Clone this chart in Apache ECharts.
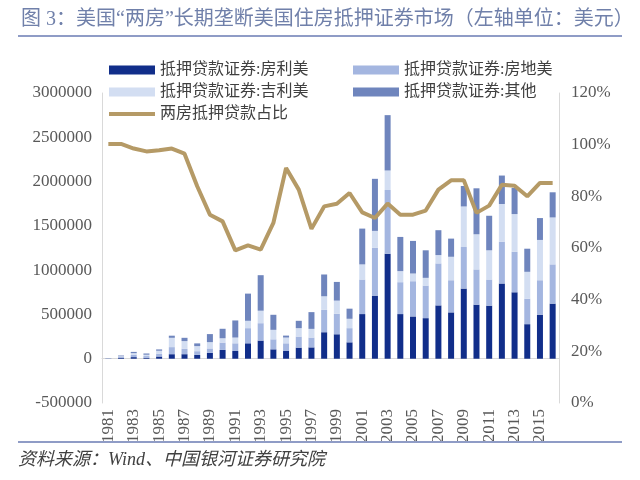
<!DOCTYPE html>
<html><head><meta charset="utf-8">
<script src="https://cdn.jsdelivr.net/npm/echarts@6/dist/echarts.min.js"></script>
<style>html,body{margin:0;padding:0;background:#fff}#c{width:640px;height:480px}</style>
</head><body><div id="c"></div>
<script>
var years = ['1981','1982','1983','1984','1985','1986','1987','1988','1989','1990','1991','1992','1993','1994','1995','1996','1997','1998','1999','2000','2001','2002','2003','2004','2005','2006','2007','2008','2009','2010','2011','2012','2013','2014','2015','2016'];
var fnma  = [2000,10000,18000,10000,25000,51000,51000,43000,66000,99000,87000,174000,205000,106000,87000,125000,128000,299000,276000,185000,504000,712000,1185000,504000,477000,458000,602000,523000,792000,610000,599000,849000,750000,390000,497000,622000];
var fhlmc = [2000,10000,25000,20000,30000,80000,60000,42000,50000,83000,87000,171000,196000,113000,87000,125000,111000,254000,232000,160000,390000,541000,720000,360000,398000,368000,474000,363000,469000,398000,295000,473000,458000,288000,389000,443000];
var gnma  = [2000,8000,20000,15000,35000,105000,88000,57000,71000,49000,65000,83000,141000,107000,65000,95000,98000,152000,148000,106000,171000,190000,220000,125000,87000,87000,94000,265000,458000,397000,330000,425000,425000,303000,455000,530000];
var other = [2000,8000,14000,14000,15000,24000,37000,31000,91000,107000,193000,307000,401000,170000,22000,83000,189000,246000,211000,114000,404000,588000,625000,386000,368000,311000,281000,205000,231000,519000,390000,321000,295000,261000,247000,284000];
var share = [100.3,100.3,98.5,97.4,97.8,98.5,96.5,83.9,72.9,70.3,59.1,61.0,59.4,69.7,91.0,82.6,67.4,76.1,77.1,81.3,73.8,71.6,77.2,72.9,72.9,74.5,82.6,86.2,86.2,73.6,76.4,84.5,84.1,80.0,85.2,85.2];
var names = ['抵押贷款证券:房利美','抵押贷款证券:房地美','抵押贷款证券:吉利美','抵押贷款证券:其他','两房抵押贷款占比'];
var colors = ['#112e8a','#a4b6e0','#d3def2','#6f85bd','#b59a66'];

var serif = 'Liberation Serif, "Noto Sans CJK SC", serif';
var legText = {fontFamily: serif, fontSize: 16, color: '#404040'};
function leg(name, left, top, isLine){
  return {data:[name], left:left, top:top, icon:'rect', itemWidth:46, itemHeight:isLine?4:9, itemGap:6, textStyle:legText, selectedMode:false};
}
var chart = echarts.init(document.getElementById('c'), null, {renderer:'canvas'});
function bar(i, data){
  return {name:names[i], type:'bar', stack:'a', data:data, barWidth:6, itemStyle:{color:colors[i]}, yAxisIndex:0};
}
chart.setOption({
  animation:false,
  color: colors,
  title:{text:'图 3：美国“两房”长期垄断美国住房抵押证券市场（左轴单位：美元）', left:16, top:5,
    textStyle:{fontFamily:serif, fontSize:20, fontWeight:'normal', color:'#7080aa'}},
  legend:[leg(names[0],104,57,false), leg(names[1],348,57,false), leg(names[2],104,79,false), leg(names[3],348,79,false), leg(names[4],104,101,true)],
  grid:{left:102, right:81, top:93, bottom:77},
  xAxis:{type:'category', data:years,
    axisLine:{onZero:true, lineStyle:{color:'#d9d9d9', width:1}},
    axisTick:{show:false},
    axisLabel:{rotate:90, interval:1, fontFamily:serif, fontSize:17, color:'#595959', margin:6}},
  yAxis:[
    {type:'value', min:-500000, max:3000000, interval:500000, splitLine:{show:false},
     axisLine:{show:true, lineStyle:{color:'#d9d9d9'}}, axisTick:{show:false},
     axisLabel:{formatter:function(v){return String(v);}, fontFamily:serif, fontSize:17, color:'#595959', margin:10}},
    {type:'value', min:0, max:120, interval:20, splitLine:{show:false},
     axisLine:{show:true, lineStyle:{color:'#d9d9d9'}}, axisTick:{show:false},
     axisLabel:{formatter:'{value}%', fontFamily:serif, fontSize:17, color:'#595959', margin:12}}
  ],
  series:[
    bar(0,fnma), bar(1,fhlmc), bar(2,gnma), bar(3,other),
    {name:names[4], type:'line', yAxisIndex:1, data:share, symbol:'none', z:5,
     lineStyle:{color:colors[4], width:4}, itemStyle:{color:colors[4]}}
  ],
  graphic:{elements:[
    {type:'rect', left:18, top:35, z:10, shape:{width:604, height:2}, style:{fill:'#8f9cc6'}},
    {type:'rect', left:18, top:441, z:10, shape:{width:604, height:2}, style:{fill:'#8f9cc6'}},
    {type:'text', left:18, top:451, style:{text:'资料来源：Wind、中国银河证券研究院', fontFamily:serif, fontStyle:'italic', fontSize:18, fill:'#404040'}}
  ]}
});
</script></body></html>
